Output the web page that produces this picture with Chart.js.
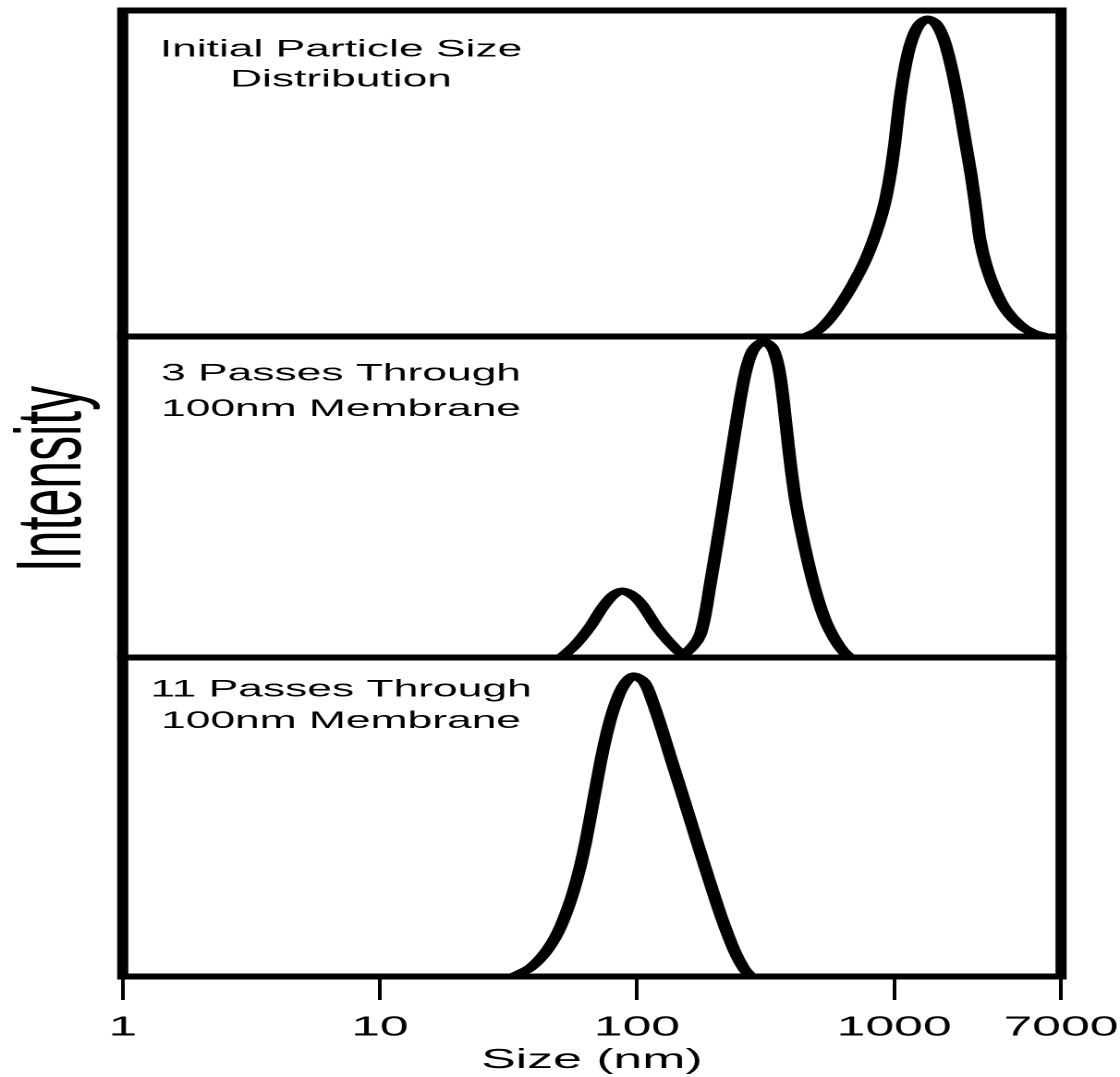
<!DOCTYPE html>
<html>
<head>
<meta charset="utf-8">
<script src="https://cdn.jsdelivr.net/npm/chart.js@4.4.1/dist/chart.umd.min.js"></script>
<style>
  html, body { margin: 0; padding: 0; background: #fff; overflow: hidden; }
  /* the original figure is stretched sideways, so the chart is drawn narrow and widened */
  #wrap { width: 606px; height: 1077px; transform: scaleX(1.848185); transform-origin: 0 0; }
</style>
</head>
<body>
<div id="wrap"><canvas id="chart" width="606" height="1077"></canvas></div>
<script>
// Size axis (nm, log) - the figure labels its right edge "7000"
const X_MIN = 1;
const X_MAX = 4460;
const tickValues = [1, 10, 100, 1000, X_MAX];
const tickLabels = ['1', '10', '100', '1000', '7000'];

// Panel 1: initial particle size distribution
const initialSize = [455, 506, 564, 633, 705, 778, 851, 915, 965, 1009, 1046, 1094, 1154, 1240, 1344,
    1457, 1565, 1681, 1789, 1889, 1993, 2084, 2160, 2279, 2471, 2726, 3091, 3472, 3867];
const initialIntensity = [0, 0.018, 0.055, 0.110, 0.172, 0.239, 0.319, 0.402, 0.494, 0.601, 0.709, 0.810, 0.893, 0.952, 0.974,
    0.959, 0.909, 0.817, 0.710, 0.602, 0.495, 0.388, 0.296, 0.219, 0.143, 0.081, 0.035, 0.011, 0];

// Panel 2: 3 passes through 100nm membrane
const pass3Size = [50.7, 57.5, 65.6, 73.2, 80.2, 87.3, 95.7, 104.7, 119.4, 136.9, 151.1,
    165.3, 176.0, 184.0, 192.5, 203.0, 214.3, 226.1, 238.6, 251.8, 265.7, 282.9, 309.4,
    335.3, 353.8, 366.7, 380.1, 393.9, 412.0, 434.8, 463.0, 497.2, 539.0, 589.7, 633.2, 674.5];
const pass3Intensity = [0, 0.039, 0.095, 0.154, 0.192, 0.207, 0.195, 0.164, 0.095, 0.039, 0.012,
    0.036, 0.070, 0.132, 0.226, 0.335, 0.450, 0.569, 0.687, 0.802, 0.896, 0.958, 0.984,
    0.966, 0.911, 0.833, 0.724, 0.614, 0.498, 0.397, 0.297, 0.201, 0.117, 0.055, 0.020, 0];

// Panel 3: 11 passes through 100nm membrane
const pass11Size = [33.0, 38.4, 43.9, 49.3, 54.4, 59.0, 63.4, 68.1, 73.8, 80.0, 87.5, 96.6,
    106.6, 115.5, 125.2, 136.9, 152.5, 171.3, 192.5, 214.3, 238.6, 261.0, 277.8];
const pass11Intensity = [0, 0.027, 0.074, 0.139, 0.224, 0.318, 0.428, 0.563, 0.710, 0.823, 0.904, 0.942,
    0.923, 0.857, 0.773, 0.672, 0.553, 0.422, 0.293, 0.180, 0.083, 0.024, 0];

const panelLabels = [
    ['Initial Particle Size', 'Distribution'],
    ['3 Passes Through', '100nm Membrane'],
    ['11 Passes Through', '100nm Membrane']
];
const panelAxes = ['y1', 'y2', 'y3'];

// layout (canvas px, before the sideways stretch)
const PLOT_LEFT = 66.4;
const LABEL_X = 184.5;
const LABEL_BASELINES = [[56.5, 86.5], [380.5, 416], [696.5, 728]];
const FONT = '"Liberation Sans", Arial, Helvetica, sans-serif';

const toPoints = (xs, ys) => xs.map((x, i) => ({ x: x, y: ys[i] }));

function curve(xs, ys, axis) {
    return {
        data: toPoints(xs, ys),
        yAxisID: axis,
        borderColor: '#000',
        borderWidth: 7,
        borderJoinStyle: 'round',
        borderCapStyle: 'round',
        pointRadius: 0,
        fill: false,
        tension: 0.3
    };
}

// one y axis per panel, stacked on the left
function panelAxis(order, share) {
    return {
        type: 'linear',
        position: 'left',
        stack: 'panels',
        stackWeight: share,
        weight: order,
        min: 0,
        max: 1,
        afterFit: (scale) => { scale.width = PLOT_LEFT; },
        ticks: { display: false },
        grid: { display: false },
        border: { display: false }
    };
}

// frames round each panel, texts inside, and the big axis word
const panelDecor = {
    id: 'panelDecor',
    afterDraw(chart) {
        const ctx = chart.ctx;
        const area = chart.chartArea;
        ctx.save();
        ctx.strokeStyle = '#000';
        ctx.lineWidth = 6;
        panelAxes.forEach(id => {
            const s = chart.scales[id];
            ctx.strokeRect(area.left, s.top, area.right - area.left, s.bottom - s.top);
        });

        ctx.fillStyle = '#000';
        ctx.textAlign = 'center';
        ctx.textBaseline = 'alphabetic';
        ctx.font = '24px ' + FONT;
        panelLabels.forEach((lines, i) => {
            lines.forEach((line, j) => ctx.fillText(line, LABEL_X, LABEL_BASELINES[i][j]));
        });

        ctx.font = '50px ' + FONT;
        ctx.translate(43.3, 479);
        ctx.rotate(-Math.PI / 2);
        ctx.fillText('Intensity', 0, 0);
        ctx.restore();
    }
};

const chart = new Chart(document.getElementById('chart'), {
    type: 'line',
    data: {
        datasets: [
            curve(initialSize, initialIntensity, 'y1'),
            curve(pass3Size, pass3Intensity, 'y2'),
            curve(pass11Size, pass11Intensity, 'y3')
        ]
    },
    options: {
        responsive: false,
        devicePixelRatio: 2,
        animation: false,
        layout: { padding: { top: 10.5, right: 31.9, bottom: 0, left: 0 } },
        plugins: {
            legend: { display: false },
            tooltip: { enabled: false }
        },
        scales: {
            x: {
                type: 'logarithmic',
                min: X_MIN,
                max: X_MAX,
                afterBuildTicks: (scale) => { scale.ticks = tickValues.map(v => ({ value: v })); },
                afterFit: (scale) => {
                    scale.height = 100.5;
                    scale.paddingLeft = 0;
                    scale.paddingRight = 0;
                },
                grid: {
                    display: true,
                    drawOnChartArea: false,
                    drawTicks: true,
                    tickLength: 23.5,
                    tickWidth: 2,
                    tickColor: '#000'
                },
                border: { display: true, width: 6, color: '#000' },
                ticks: {
                    autoSkip: false,
                    maxRotation: 0,
                    padding: 11,
                    color: '#000',
                    font: { family: FONT, size: 28 },
                    callback: (value, index) => tickLabels[index]
                },
                title: {
                    display: true,
                    text: 'Size (nm)',
                    color: '#000',
                    font: { family: FONT, size: 28 },
                    padding: { top: 0, bottom: 0 }
                }
            },
            y1: panelAxis(3, 326),
            y2: panelAxis(2, 321),
            y3: panelAxis(1, 319)
        }
    },
    plugins: [panelDecor]
});
</script>
</body>
</html>
